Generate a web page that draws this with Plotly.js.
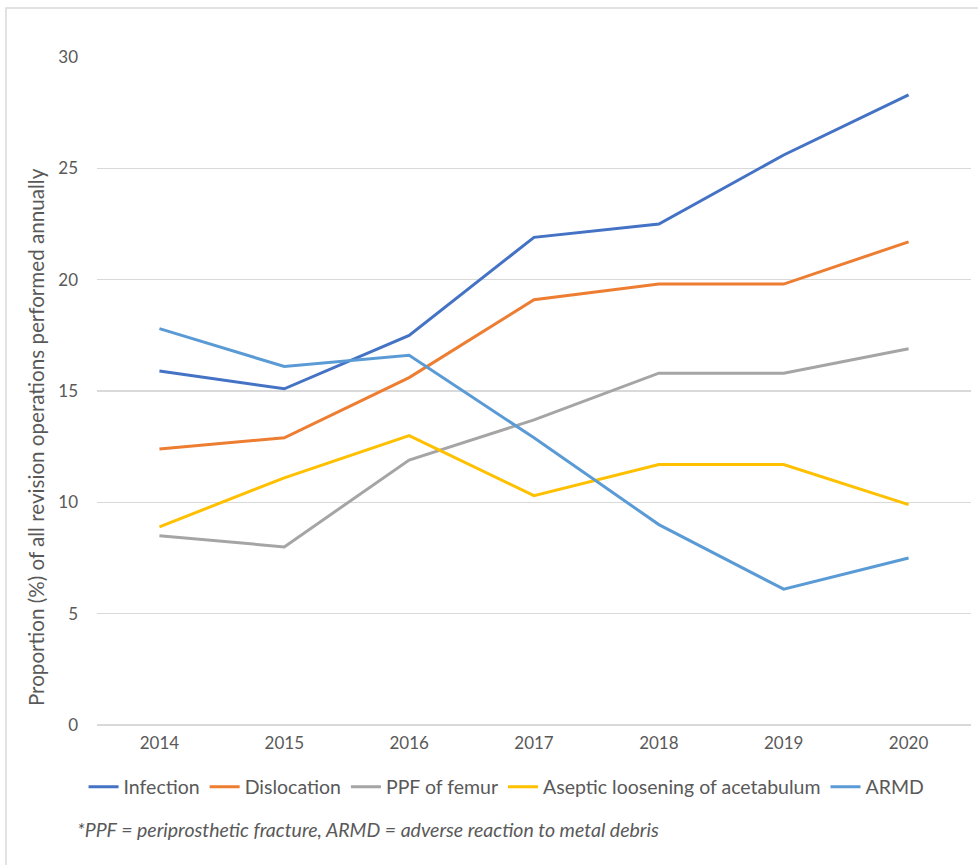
<!DOCTYPE html>
<html>
<head>
<meta charset="utf-8">
<script src="https://cdn.plot.ly/plotly-3.0.1.min.js"></script>
<style>
  html, body { margin: 0; padding: 0; background: #ffffff; }
  #chart { width: 978px; height: 865px; }
</style>
</head>
<body>
<div id="chart"></div>
<script>
// Revision hip operations by indication, share of all revisions per year (%)
const years = ['2014', '2015', '2016', '2017', '2018', '2019', '2020'];

const infection   = [15.9, 15.1, 17.5, 21.9, 22.5, 25.6, 28.3];
const dislocation = [12.4, 12.9, 15.6, 19.1, 19.8, 19.8, 21.7];
const ppfFemur    = [8.5, 8.0, 11.9, 13.7, 15.8, 15.8, 16.9];
const asepticAcet = [8.9, 11.1, 13.0, 10.3, 11.7, 11.7, 9.9];
const armd        = [17.8, 16.1, 16.6, 12.9, 9.0, 6.1, 7.5];

const seriesNames  = ['Infection', 'Dislocation', 'PPF of femur', 'Aseptic loosening of acetabulum', 'ARMD'];
const seriesValues = [infection, dislocation, ppfFemur, asepticAcet, armd];
const seriesColors = ['#4472C4', '#ED7D31', '#A5A5A5', '#FFC000', '#5B9BD5'];

const yTicks = [0, 5, 10, 15, 20, 25, 30];

const FONT = 'Lato, "Open Sans", "DejaVu Sans", sans-serif';
const TEXT_GREY = '#595959';

const traces = seriesNames.map((name, i) => ({
  type: 'scatter',
  mode: 'lines',
  name: name,
  x: years,
  y: seriesValues[i],
  line: { color: seriesColors[i], width: 3 },
  hoverinfo: 'x+y+name'
}));

const layout = {
  width: 978,
  height: 865,
  margin: { l: 97, r: 7, t: 57, b: 140 },
  paper_bgcolor: '#ffffff',
  plot_bgcolor: '#ffffff',
  font: { family: FONT, color: TEXT_GREY, size: 17 },
  showlegend: true,
  xaxis: {
    type: 'category',
    categoryorder: 'array',
    categoryarray: years,
    range: [-0.5, years.length - 0.5],
    showgrid: false,
    zeroline: false,
    showline: false,
    ticks: '',
    ticklabelstandoff: 6,
    tickfont: { family: FONT, size: 17, color: TEXT_GREY },
    fixedrange: true
  },
  yaxis: {
    range: [0, 30],
    tickmode: 'array',
    tickvals: yTicks,
    ticktext: yTicks.map(String),
    showgrid: true,
    gridcolor: '#D9D9D9',
    gridwidth: 1.3,
    zeroline: true,
    zerolinecolor: '#D9D9D9',
    zerolinewidth: 1.3,
    showline: false,
    ticks: '',
    ticklabelstandoff: 18,
    tickfont: { family: FONT, size: 17, color: TEXT_GREY },
    automargin: false,
    fixedrange: true
  },
  legend: {
    orientation: 'h',
    x: 0.4686,
    xanchor: 'center',
    y: -0.0928,
    yanchor: 'middle',
    font: { family: FONT, size: 19.5, color: TEXT_GREY },
    bgcolor: 'rgba(0,0,0,0)',
    itemwidth: 30,
    tracegroupgap: 0
  },
  annotations: [{
    // vertical axis title, sitting a little below the plot's midline
    xref: 'paper',
    yref: 'paper',
    x: -0.0698,
    y: 0.431,
    xanchor: 'center',
    yanchor: 'middle',
    textangle: -90,
    showarrow: false,
    text: 'Proportion (%) of all revision operations performed annually',
    font: { family: FONT, size: 20.6, color: TEXT_GREY }
  }, {
    xref: 'paper',
    yref: 'paper',
    x: -0.0252,
    y: -0.157,
    xanchor: 'left',
    yanchor: 'middle',
    showarrow: false,
    text: '<i>*PPF = periprosthetic fracture, ARMD = adverse reaction to metal debris</i>',
    font: { family: FONT, size: 19.5, color: TEXT_GREY }
  }],
  shapes: [{
    // light frame around the chart area
    type: 'rect',
    xref: 'paper',
    yref: 'paper',
    x0: -0.1041,
    x1: 1.02,
    y0: -0.22,
    y1: 1.0734,
    line: { color: '#D9D9D9', width: 1.5 },
    fillcolor: 'rgba(0,0,0,0)',
    layer: 'below'
  }]
};

Plotly.newPlot('chart', traces, layout, { displayModeBar: false, staticPlot: true });
</script>
</body>
</html>
